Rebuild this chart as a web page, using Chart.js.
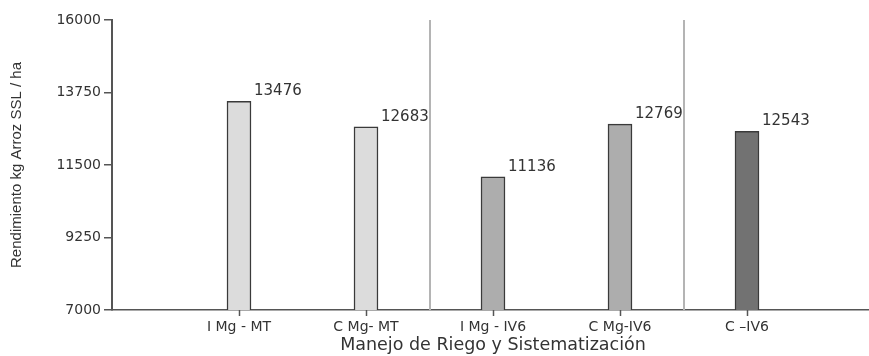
<!DOCTYPE html>
<html>
<head>
<meta charset="utf-8">
<script src="https://cdn.jsdelivr.net/npm/chart.js@4.4.0/dist/chart.umd.min.js"></script>
<style>
  html, body { margin: 0; padding: 0; background: #fff; overflow: hidden; }
  canvas { display: block; }
</style>
</head>
<body>
<canvas id="chart" width="878" height="356"></canvas>
<script>
// categories (blank slots at both ends leave the spacing of the original)
var labels = ["", "I Mg - MT", "C Mg- MT", "I Mg - IV6", "C Mg-IV6", "C \u2013IV6", ""];
var rendimiento = [null, 13476, 12683, 11136, 12769, 12543, null];
var barColors = ["#fff", "#dcdcdc", "#dcdcdc", "#adadad", "#adadad", "#727272", "#fff"];
var yTicks = [7000, 9250, 11500, 13750, 16000];
var separators = [2.5, 4.5];

var textColor = "#333";
var fontFamily = "'DejaVu Sans', Arial, sans-serif";

// value labels, up and to the right of each bar
var valueLabels = {
    id: "valueLabels",
    afterDatasetsDraw: function(chart) {
        var ctx = chart.ctx;
        var meta = chart.getDatasetMeta(0);
        ctx.save();
        ctx.font = "15px " + fontFamily;
        ctx.fillStyle = textColor;
        ctx.textAlign = "left";
        ctx.textBaseline = "middle";
        meta.data.forEach(function(bar, i) {
            var v = rendimiento[i];
            if (v == null) return;
            ctx.fillText(String(v), bar.x + bar.width / 2 + 3, bar.y - 10);
        });
        ctx.restore();
    }
};

// grey vertical lines between the groups, plus the small ticks under each bar
var groupLines = {
    id: "groupLines",
    beforeDatasetsDraw: function(chart) {
        var ctx = chart.ctx;
        var x = chart.scales.x;
        var area = chart.chartArea;
        ctx.save();
        ctx.strokeStyle = "#b4b4b4";
        ctx.lineWidth = 2;
        separators.forEach(function(s) {
            var px = Math.round(x.getPixelForValue(s));
            ctx.beginPath();
            ctx.moveTo(px, area.top);
            ctx.lineTo(px, area.bottom);
            ctx.stroke();
        });
        ctx.strokeStyle = "#555";
        ctx.lineWidth = 1.5;
        rendimiento.forEach(function(v, i) {
            if (v == null) return;
            var px = Math.round(x.getPixelForValue(i)) + 0.5;
            ctx.beginPath();
            ctx.moveTo(px, area.bottom);
            ctx.lineTo(px, area.bottom + 6);
            ctx.stroke();
        });
        ctx.restore();
    }
};

var ctx = document.getElementById("chart").getContext("2d");

var chart = new Chart(ctx, {
    type: "bar",
    data: {
        labels: labels,
        datasets: [{
            data: rendimiento,
            backgroundColor: barColors,
            borderColor: "#3a3a3a",
            borderWidth: 1.5,
            borderSkipped: "bottom",
            barThickness: 24
        }]
    },
    options: {
        responsive: false,
        animation: false,
        layout: { padding: { top: 20, right: 0, bottom: 0, left: 0 } },
        plugins: {
            legend: { display: false },
            tooltip: { enabled: false }
        },
        scales: {
            x: {
                offset: false,
                grid: {
                    display: false,
                    offset: false,
                    drawTicks: true,
                    tickLength: 5
                },
                border: { display: true, color: "#555", width: 1.5 },
                ticks: {
                    color: textColor,
                    font: { family: fontFamily, size: 14 },
                    padding: 4,
                    maxRotation: 0,
                    autoSkip: false
                },
                title: {
                    display: true,
                    text: "Manejo de Riego y Sistematización",
                    color: textColor,
                    font: { family: fontFamily, size: 17.5 },
                    padding: { top: 0, bottom: 0 }
                },
                afterFit: function(scale) { scale.height = 46; }
            },
            y: {
                min: 7000,
                max: 16000,
                afterBuildTicks: function(scale) {
                    scale.ticks = yTicks.map(function(v) { return { value: v }; });
                },
                grid: {
                    display: true,
                    drawOnChartArea: false,
                    drawTicks: true,
                    tickLength: 8,
                    color: "#555",
                    lineWidth: 1.5
                },
                border: { display: true, color: "#555", width: 2 },
                ticks: {
                    color: textColor,
                    font: { family: fontFamily, size: 14 },
                    padding: 3,
                    callback: function(v) { return String(v); }
                },
                title: {
                    display: true,
                    text: "Rendimiento kg Arroz SSL / ha",
                    color: textColor,
                    font: { family: "'Liberation Sans', Arial, sans-serif", size: 15 },
                    padding: { top: 8, bottom: 0 }
                },
                afterFit: function(scale) { scale.width = 112; }
            }
        }
    },
    plugins: [groupLines, valueLabels]
});
</script>
</body>
</html>
